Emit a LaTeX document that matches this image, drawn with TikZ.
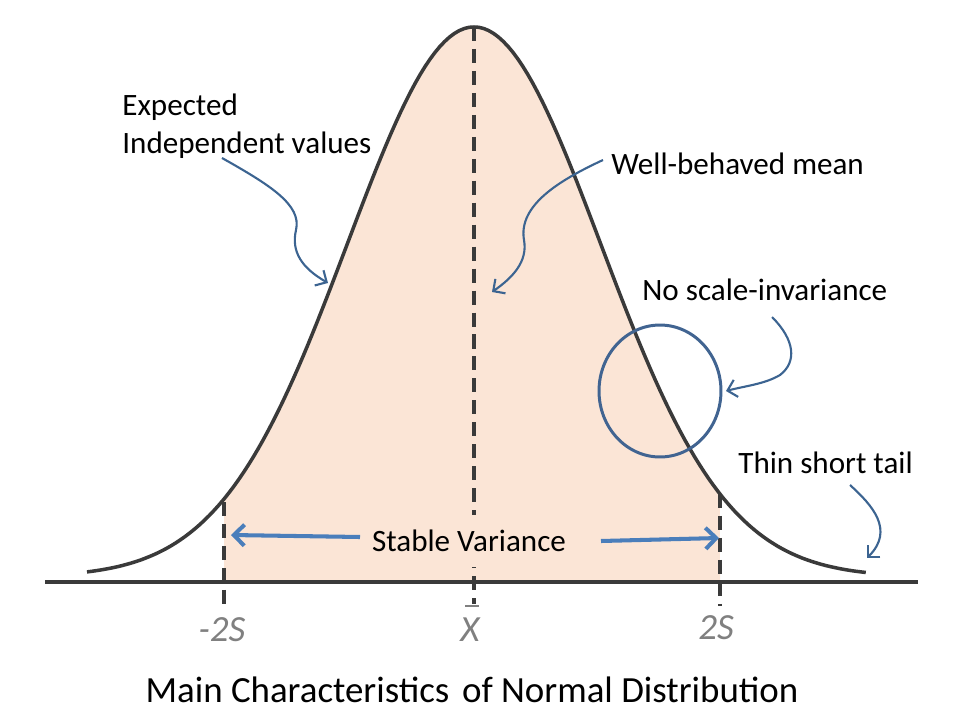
\documentclass[tikz,border=0pt]{standalone}
\usepackage{fontspec}
\setmainfont{Carlito}
\usetikzlibrary{arrows.meta,shapes.geometric}
\definecolor{peach}{RGB}{251,229,214}
\definecolor{curvegray}{RGB}{58,58,58}
\definecolor{arrowblue}{RGB}{60,100,145}
\definecolor{hblue}{RGB}{74,126,187}
\definecolor{circblue}{RGB}{65,100,145}
\definecolor{labgray}{RGB}{128,128,128}
\begin{document}
\begin{tikzpicture}[x=0.02cm,y=-0.02cm,
  lbl/.style={font=\fontsize{17.7}{21.5}\selectfont, inner sep=0pt, align=left, anchor=west},
  axlbl/.style={font=\fontsize{21}{24}\selectfont\itshape, text=labgray, inner sep=0pt},
  dashline/.style={draw=curvegray, line width=2.3pt, dash pattern=on 8pt off 4.5pt},
  curvy/.style={draw=arrowblue, line width=1.2pt, -{Straight Barb[length=5pt,width=10pt]}},
  harrow/.style={draw=hblue, line width=2.3pt, -{Straight Barb[length=6pt,width=12pt]}}]
\useasboundingbox[fill=white] (0,0) rectangle (960,720);
% shaded area between -2S and 2S
\fill[peach] (224,582) -- plot[domain=-2.50:2.46, samples=80, variable=\t] ({474+100*\t},{577-550*exp(-\t*\t/3.2)}) -- (720,582) -- cycle;
% dashed verticals
\draw[dashline] (474,27) -- (474,604);
\draw[dashline] (224,502) -- (224,606);
\draw[dashline] (720,494) -- (720,606);
% baseline
\draw[curvegray, line width=2.3pt] (45,582) -- (918,582);
% normal curve
\draw[curvegray, line width=2pt] plot[domain=-3.87:3.92, samples=160, variable=\t] ({474+100*\t},{577-550*exp(-\t*\t/3.2)});
% labels
\node[lbl] (exp) at (122,126) {Expected\\Independent values};
\node[lbl] (wb) at (611,164) {Well-behaved mean};
\node[lbl] (ns) at (642,290) {No scale-invariance};
\node[lbl] (tt) at (738,463) {Thin short tail};
\node[fill=peach, font=\fontsize{17.7}{21.5}\selectfont, inner xsep=2pt, minimum height=30pt] (sv) at (469,541) {Stable Variance};
% axis labels
\node[axlbl] (m2s) at (222,630) {-2S};
\node[axlbl] (p2s) at (716,628) {2S};
\node[axlbl, anchor=base] (xbar) at (470,641) {\shortstack{\hspace{0.12em}\rule{0.38em}{0.06em}\\[3pt]X}};
\node[font=\fontsize{21}{25}\selectfont, inner sep=0pt] (title) at (472,690) {Main Characteristics\hspace{0.12em} of Normal Distribution};
% circle
\node[ellipse, draw=circblue, line width=1.7pt, minimum width=2.44cm, minimum height=2.64cm, inner sep=0pt] (circ) at (660,391) {};
% horizontal arrows
\coordinate (vlS) at (360,537);
\coordinate (vlE) at (231,535);
\coordinate (vrS) at (601,541);
\coordinate (vrE) at (719,538);
\draw[harrow] (vlS) -- (vlE);
\draw[harrow] (vrS) -- (vrE);
% curvy arrows
\coordinate (a1s) at (222,158);
\coordinate (a1e) at (328,283);
\draw[curvy] (a1s) .. controls (270,185) and (302,205) .. (296,230) .. controls (291,252) and (302,268) .. (a1e);
\coordinate (a2s) at (603,160);
\coordinate (a2e) at (492,292);
\draw[curvy] (a2s) .. controls (560,180) and (518,205) .. (524,240) .. controls (528,262) and (512,278) .. (a2e);
\coordinate (a3s) at (772,317);
\draw[curvy] (a3s) .. controls (795,340) and (797,362) .. (780,375) .. controls (765,384) and (745,386) .. ([xshift=2pt]circ.east);
\coordinate (a4s) at (850,485);
\coordinate (a4e) at (867,558);
\draw[curvy] (a4s) .. controls (872,505) and (895,530) .. (a4e);
\end{tikzpicture}
\end{document}
